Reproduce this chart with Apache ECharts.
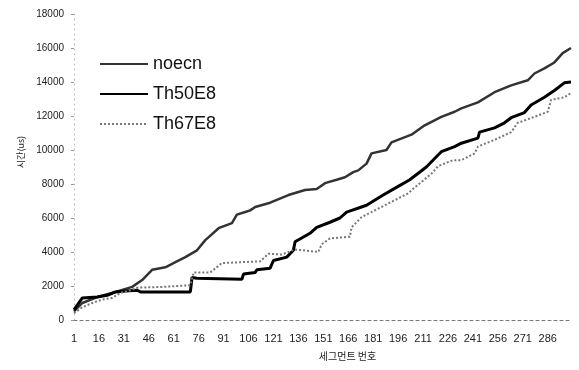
<!DOCTYPE html>
<html>
<head>
<meta charset="utf-8">
<script src="https://cdn.jsdelivr.net/npm/echarts@6/dist/echarts.min.js"></script>
<style>
  html, body { margin: 0; padding: 0; background: #fff; }
  #chart { width: 579px; height: 370px; }
</style>
</head>
<body>
<div id="chart"></div>
<script>
// segment numbers 1..300 on the category axis, label every 15th
const segmentCount = 300
const categories = []
for (let i = 1; i <= segmentCount; i++) categories.push(String(i))

// [segment index (0-based), time in us]
const noecn = [
  [0, 500], [5, 1000], [14, 1350], [25, 1650], [35, 1950], [41, 2350], [47, 2950],
  [55, 3100], [61, 3400], [67, 3700], [74, 4100], [79, 4700], [87, 5400], [95, 5700],
  [98, 6200], [103, 6350], [106, 6450], [109, 6650], [118, 6900], [129, 7350],
  [139, 7650], [146, 7700], [151, 8050], [158, 8250], [163, 8400], [168, 8700],
  [171, 8800], [176, 9200], [179, 9800], [188, 10000], [191, 10450], [203, 10900],
  [211, 11450], [221, 11950], [229, 12250], [233, 12450], [243, 12800], [253, 13400],
  [263, 13800], [273, 14100], [277, 14500], [283, 14800], [289, 15150], [294, 15700],
  [299, 16000]
]
const th50e8 = [
  [0, 600], [5, 1300], [14, 1350], [20, 1450], [25, 1650], [31, 1700], [38, 1750],
  [40, 1650], [70, 1650], [71, 2500], [74, 2450], [75, 2400], [101, 2400], [102, 2700],
  [109, 2800], [110, 2950], [118, 3050], [120, 3500], [128, 3700], [132, 4100],
  [133, 4600], [142, 5100], [146, 5450], [154, 5750], [160, 6000], [164, 6350],
  [176, 6750], [186, 7350], [194, 7800], [202, 8250], [212, 9000], [218, 9600],
  [221, 9900], [229, 10200], [233, 10400], [243, 10700], [244, 11050], [253, 11300],
  [259, 11600], [263, 11900], [271, 12200], [275, 12650], [283, 13100], [289, 13500],
  [295, 13950], [299, 14000]
]
const th67e8 = [
  [0, 400], [5, 750], [11, 1000], [17, 1200], [23, 1300], [28, 1600], [34, 1750],
  [38, 1900], [54, 1950], [70, 2050], [72, 2800], [82, 2800], [89, 3350], [112, 3450],
  [117, 3900], [125, 3850], [133, 4150], [147, 4000], [149, 4450], [154, 4800],
  [166, 4900], [167, 5450], [173, 6050], [181, 6450], [191, 6950], [201, 7450],
  [205, 7800], [215, 8600], [219, 9050], [228, 9400], [233, 9400], [241, 9800],
  [243, 10200], [253, 10600], [263, 11050], [267, 11600], [277, 11950], [285, 12250],
  [287, 12950], [295, 13100], [299, 13350]
]

const chart = echarts.init(document.getElementById('chart'))

const latin = '"Liberation Sans", Arial, sans-serif'
const hangul = '"Noto Sans CJK KR", sans-serif'

chart.setOption({
  backgroundColor: '#fff',
  animation: false,
  grid: { left: 74, right: 8, top: 14, bottom: 50 },
  legend: {
    orient: 'vertical',
    left: 94,
    top: 49,
    itemWidth: 48,
    itemHeight: 14,
    itemGap: 10,
    itemStyle: { opacity: 0 },
    textStyle: { fontSize: 18, lineHeight: 20, color: '#111', fontFamily: latin },
    data: ['noecn', 'Th50E8', 'Th67E8']
  },
  xAxis: {
    type: 'category',
    data: categories,
    boundaryGap: false,
    name: '세그먼트 번호',
    nameLocation: 'middle',
    nameGap: 31,
    nameTextStyle: { fontSize: 10, color: '#222', fontFamily: hangul, padding: [0, 0, 0, 50] },
    axisLine: { lineStyle: { color: '#777', type: [3, 3], width: 1 } },
    axisTick: { show: false },
    axisLabel: { interval: 14, margin: 13, fontSize: 11, color: '#222', fontFamily: latin },
    splitLine: { show: false }
  },
  yAxis: {
    type: 'value',
    min: 0,
    max: 18000,
    interval: 2000,
    name: '시간(us)',
    nameLocation: 'middle',
    nameGap: 45,
    nameTextStyle: { fontSize: 9, color: '#222', fontFamily: hangul, padding: [0, 0, 0, 30] },
    axisLine: { show: true, lineStyle: { color: '#bbb', type: [1, 4], width: 1 } },
    axisTick: { show: true, length: 3, lineStyle: { color: '#999' } },
    axisLabel: {
      margin: 10,
      fontSize: 10,
      color: '#222',
      fontFamily: latin,
      formatter: function (v) { return String(v) }
    },
    splitLine: { show: false }
  },
  series: [
    {
      name: 'noecn',
      type: 'line',
      data: noecn,
      symbol: 'none',
      lineStyle: { color: '#333', width: 2.5 },
      itemStyle: { color: '#333' }
    },
    {
      name: 'Th50E8',
      type: 'line',
      data: th50e8,
      symbol: 'none',
      lineStyle: { color: '#000', width: 3 },
      itemStyle: { color: '#000' }
    },
    {
      name: 'Th67E8',
      type: 'line',
      data: th67e8,
      symbol: 'none',
      lineStyle: { color: '#777', width: 2, type: [2, 2] },
      itemStyle: { color: '#777' }
    }
  ]
})
</script>
</body>
</html>
